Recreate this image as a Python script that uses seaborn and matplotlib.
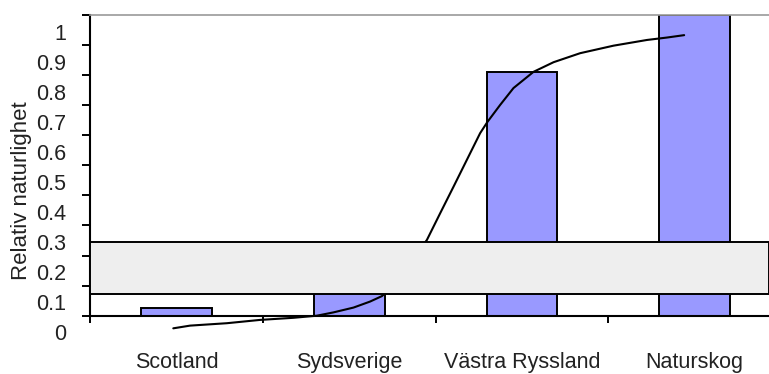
import numpy as np
import pandas as pd
import matplotlib
matplotlib.use("Agg")
import matplotlib.pyplot as plt
import matplotlib.transforms as mtransforms
import seaborn as sns

# --- data ---
categories = ["Scotland", "Sydsverige", "Västra Ryssland", "Naturskog"]
naturlighet = [0.027, 0.15, 0.81, 1.0]

# trendkurva (läst från bilden, x i kategoripositioner)
curve_x = [-0.018, 0.079, 0.292, 0.484, 0.677, 0.813, 0.909, 1.025, 1.121, 1.189,
           1.266, 1.353, 1.450, 1.527, 1.604, 1.681, 1.758, 1.801, 1.874, 1.951,
           2.067, 2.183, 2.337, 2.530, 2.724, 2.839, 2.939]
curve_y = [-0.042, -0.033, -0.025, -0.014, -0.007, 0.0, 0.011, 0.027, 0.047, 0.065,
           0.102, 0.175, 0.252, 0.341, 0.429, 0.518, 0.607, 0.645, 0.701, 0.757,
           0.811, 0.843, 0.873, 0.898, 0.917, 0.925, 0.933]

# grå ruta
box_low = 0.073
box_high = 0.245

y_ticks = [0, 0.1, 0.2, 0.3, 0.4, 0.5, 0.6, 0.7, 0.8, 0.9, 1.0]
y_ticklabels = ["0", "0.1", "0.2", "0.3", "0.4", "0.5", "0.6", "0.7", "0.8", "0.9", "1"]

df = pd.DataFrame({"omrade": categories, "varde": naturlighet})

sns.set_style("white")
plt.rcParams["font.family"] = ["Liberation Sans", "DejaVu Sans"]

fig = plt.figure(figsize=(7.69, 3.74), dpi=100)
ax = fig.add_axes([90 / 769, 58.3 / 374, 679 / 769, 300.7 / 374])

sns.barplot(data=df, x="omrade", y="varde", color="#9999FF", saturation=1,
            edgecolor="black", linewidth=1.4, width=0.41, ax=ax, zorder=2)

ax.plot(curve_x, curve_y, color="black", lw=1.5, zorder=3, clip_on=False)

ax.axhspan(box_low, box_high, facecolor="#EEEEEE", edgecolor="black", lw=1.4, zorder=4)

# x: streck vid gränserna, etiketter i mitten
ax.set_xticks([-0.5, 0.5, 1.5, 2.5, 3.5])
ax.set_xticklabels([])
ax.set_xticks(range(len(categories)), minor=True)
ax.set_xticklabels(categories, minor=True, fontsize=15.5, color="#222222")
ax.tick_params(axis="x", which="major", direction="out", length=5, width=1.4, color="black", bottom=True)
ax.tick_params(axis="x", which="minor", length=0, pad=26)

ax.set_yticks(y_ticks)
ax.set_yticklabels(y_ticklabels, fontsize=15.5, color="#222222")
ax.tick_params(axis="y", direction="out", length=6, width=1.4, color="black", left=True, pad=11)
offset = mtransforms.ScaledTranslation(0, -16.5 / 100, fig.dpi_scale_trans)
for lab in ax.get_yticklabels():
    lab.set_transform(lab.get_transform() + offset)

ax.set_xlim(-0.5, 3.43)
ax.set_ylim(0, 1.0)

ax.set_xlabel("")
ax.set_ylabel("Relativ naturlighet", fontsize=16, color="#222222")
ax.yaxis.set_label_coords(-0.085, 0.415)

for s in ["left", "bottom"]:
    ax.spines[s].set_color("black")
    ax.spines[s].set_linewidth(1.5)
ax.spines["top"].set_color("#999999")
ax.spines["top"].set_linewidth(1.2)
ax.spines["right"].set_visible(False)

fig.savefig("out.png", dpi=100)
